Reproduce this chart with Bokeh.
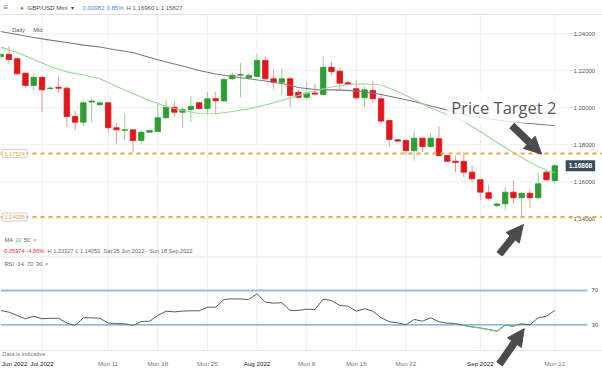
from bokeh.plotting import figure
from bokeh.layouts import column
from bokeh.models import (ColumnDataSource, FixedTicker, Span, Label, LabelSet,
                          Arrow, NormalHead, Range1d)
from bokeh.embed import file_html
from bokeh.resources import INLINE
from bokeh.core.properties import value

# ---------------- data ----------------
# trading-day index (IG daily incl. Sunday candles); 0 = Fri 1 Jul 2022
days = list(range(-5, 63))
opens = [1.2277, 1.2288, 1.2265, 1.2187, 1.2121, 1.2165, 1.2104, 1.2111, 1.2106, 1.1953,
         1.1922, 1.2031, 1.2016, 1.2027, 1.1892, 1.1878, 1.1881, 1.1823, 1.1868, 1.1872,
         1.1946, 1.2003, 1.1976, 1.1991, 1.2027, 1.1996, 1.2049, 1.2037, 1.2157, 1.2176,
         1.2162, 1.2169, 1.2256, 1.2157, 1.2138, 1.2157, 1.2084, 1.2057, 1.2080, 1.2072,
         1.2219, 1.2198, 1.2135, 1.2103, 1.2054, 1.2094, 1.2049, 1.1931, 1.1827, 1.1823,
         1.1769, 1.1836, 1.1791, 1.1833, 1.1742, 1.1711, 1.1710, 1.1652, 1.1611, 1.1541,
         1.1472, 1.1481, 1.1544, 1.1514, 1.1538, 1.1514, 1.1652, 1.1606]
highs = [1.2301, 1.2333, 1.2272, 1.2191, 1.2187, 1.2169, 1.2115, 1.2165, 1.2121, 1.1985,
         1.2040, 1.2050, 1.2030, 1.2030, 1.1917, 1.1968, 1.1881, 1.1881, 1.1881, 1.2022,
         1.2043, 1.2034, 1.2002, 1.2064, 1.2032, 1.2084, 1.2088, 1.2164, 1.2192, 1.2241,
         1.2187, 1.2292, 1.2277, 1.2205, 1.2216, 1.2169, 1.2097, 1.2138, 1.2130, 1.2277,
         1.2247, 1.2216, 1.2148, 1.2148, 1.2115, 1.2144, 1.2076, 1.1931, 1.1833, 1.1833,
         1.1877, 1.1838, 1.1863, 1.1899, 1.1742, 1.1742, 1.1760, 1.1688, 1.1611, 1.1585,
         1.1488, 1.1571, 1.1607, 1.1538, 1.1557, 1.1647, 1.1665, 1.1696]
lows = [1.2265, 1.2238, 1.2180, 1.2108, 1.2090, 1.1976, 1.2096, 1.2081, 1.1895, 1.1877,
        1.1904, 1.1922, 1.2012, 1.1867, 1.1809, 1.1823, 1.1760, 1.1805, 1.1865, 1.1868,
        1.1938, 1.1950, 1.1892, 1.1922, 1.1989, 1.1964, 1.1967, 1.2034, 1.2148, 1.2057,
        1.2151, 1.2165, 1.2151, 1.2099, 1.2067, 1.2003, 1.2049, 1.2043, 1.2067, 1.2067,
        1.2177, 1.2097, 1.2121, 1.2043, 1.2007, 1.2025, 1.1917, 1.1791, 1.1814, 1.1742,
        1.1715, 1.1760, 1.1784, 1.1737, 1.1706, 1.1652, 1.1625, 1.1598, 1.1499, 1.1499,
        1.1461, 1.1445, 1.1481, 1.1405, 1.1460, 1.1508, 1.1607, 1.1590]
closes = [1.2288, 1.2261, 1.2184, 1.2121, 1.2165, 1.2097, 1.2107, 1.2106, 1.1953, 1.1922,
          1.2027, 1.2037, 1.2027, 1.1892, 1.1881, 1.1881, 1.1823, 1.1868, 1.1877, 1.1946,
          1.2003, 1.1976, 1.1991, 1.2007, 1.1996, 1.2049, 1.2038, 1.2153, 1.2176, 1.2180,
          1.2175, 1.2256, 1.2157, 1.2138, 1.2157, 1.2067, 1.2057, 1.2079, 1.2074, 1.2219,
          1.2196, 1.2133, 1.2126, 1.2054, 1.2097, 1.2049, 1.1928, 1.1829, 1.1820, 1.1769,
          1.1836, 1.1791, 1.1836, 1.1742, 1.1711, 1.1704, 1.1652, 1.1616, 1.1544, 1.1511,
          1.1480, 1.1544, 1.1514, 1.1538, 1.1514, 1.1589, 1.1611, 1.16868]

ma_days = [-5, -3, -1, 1, 3, 5, 7, 9, 11, 13, 15, 17, 19, 21, 23, 25, 27, 29, 31, 33,
           35, 37, 39, 41, 43, 45, 47, 49, 51, 53, 55, 57, 59, 61, 62]
ma20 = [1.2328, 1.2299, 1.2261, 1.2223, 1.2194, 1.2177, 1.2157, 1.2115, 1.2077, 1.2040,
        1.2007, 1.1985, 1.1969, 1.1968, 1.1980, 1.1994, 1.2015, 1.2040, 1.2067, 1.2091,
        1.2112, 1.2126, 1.2130, 1.2123, 1.2088, 1.2045, 1.1999, 1.1964, 1.1926, 1.1872,
        1.1812, 1.1758, 1.1704, 1.1661, 1.1650]
ma50 = [1.2412, 1.2396, 1.2380, 1.2366, 1.2353, 1.2339, 1.2329, 1.2312, 1.2299, 1.2272,
        1.2248, 1.2226, 1.2202, 1.2183, 1.2169, 1.2157, 1.2145, 1.2131, 1.2110, 1.2099,
        1.2097, 1.2094, 1.2087, 1.2072, 1.2053, 1.2034, 1.2010, 1.1988, 1.1964, 1.1948,
        1.1934, 1.1923, 1.1915, 1.1907, 1.1904]

rsi = [46.7, 44.7, 40.8, 37.0, 40.0, 37.0, 37.5, 37.7, 32.0, 29.2,
       38.2, 38.0, 37.7, 32.0, 31.5, 31.2, 29.2, 33.8, 34.2, 40.8,
       45.9, 45.0, 46.0, 46.3, 46.3, 50.5, 50.5, 59.5, 60.3, 60.0,
       59.5, 66.2, 56.4, 55.2, 55.7, 46.7, 46.7, 48.2, 47.8, 59.9,
       58.3, 52.5, 51.7, 45.9, 48.7, 45.9, 38.2, 33.5, 32.3, 30.0,
       36.2, 34.2, 38.2, 33.5, 31.9, 31.5, 29.2, 27.5, 26.3, 24.5,
       22.5, 29.5, 28.4, 31.2, 30.0, 38.2, 40.0, 46.7]

price_ticks = [1.14, 1.16, 1.18, 1.20, 1.22, 1.24]
price_tick_labels = ["1.14000", "1.16000", "1.18000", "1.20000", "1.22000", "1.24000"]
grid_days = [0, 8, 14, 20, 26, 32, 38, 44, 53, 62]
mon_days = [8, 14, 20, 32, 38, 44, 62]
mon_labels = ["Mon 11", "Mon 18", "Mon 25", "Mon 8", "Mon 15", "Mon 22", "Mon 12"]
month_days = [-3.3, 0, 26, 53]
month_labels = ["Jun 2022", "Jul 2022", "Aug 2022", "Sep 2022"]
rsi_ticks = [30, 70]
level_hi = 1.17524
level_lo = 1.14095
last_price = 1.16868

# ---------------- layout constants ----------------
X0, X1 = -5.02, 67.77          # full canvas width in day units
AX = 63.9                      # where the price scale sits
P_TOP, P_BOT = 1.2504, 1.11962  # price pane limits
R_TOP = 109.6

SANS = "Liberation Sans"
GREEN = "#2e9e34"
RED = "#e0171c"
GREEN_WICK = "#93d193"
RED_WICK = "#f09898"
ORANGE = "#f0a940"
ARROW = "#4b4b4b"
GRID = "#ededed"


def candles(up):
    idx = [i for i in range(len(days)) if (closes[i] >= opens[i]) == up]
    return ColumnDataSource(dict(
        x=[days[i] for i in idx],
        top=[max(opens[i], closes[i]) for i in idx],
        bottom=[min(opens[i], closes[i]) for i in idx],
        high=[highs[i] for i in idx],
        low=[lows[i] for i in idx]))


def txt(fig, x, y, t, color="#555555", size="6px", bold=False):
    fig.add_layout(Label(x=x, y=y, text=t, text_font=SANS, text_font_size=size,
                         text_color=color, text_baseline="middle", text_align="left",
                         text_font_style="bold" if bold else "normal"))


xr = Range1d(X0, X1)

# ---------------- price pane ----------------
p1 = figure(width=602, height=256, x_range=xr, y_range=Range1d(P_BOT, 1.2580),
            x_axis_location=None, y_axis_location="right",
            output_backend="svg", toolbar_location=None,
            min_border_left=0, min_border_right=0, min_border_top=0, min_border_bottom=0)
p1.outline_line_color = None
p1.background_fill_color = "white"
p1.border_fill_color = "white"
p1.xgrid.grid_line_color = None
p1.ygrid.grid_line_color = None
p1.yaxis.fixed_location = AX
p1.yaxis.ticker = FixedTicker(ticks=price_ticks)
p1.yaxis.major_label_overrides = dict(zip(price_ticks, price_tick_labels))
p1.yaxis.axis_line_color = None
p1.yaxis.minor_tick_line_color = None
p1.yaxis.major_tick_line_color = "#cccccc"
p1.yaxis.major_tick_in = 0
p1.yaxis.major_tick_out = 2
p1.yaxis.major_label_standoff = 1
p1.yaxis.major_label_text_font = SANS
p1.yaxis.major_label_text_font_size = "6px"
p1.yaxis.major_label_text_color = "#555555"

# grid
p1.segment(x0=grid_days, x1=grid_days, y0=[P_BOT] * len(grid_days), y1=[P_TOP] * len(grid_days),
           line_color=GRID, line_width=1)
p1.segment(x0=[X0] * len(price_ticks), x1=[AX] * len(price_ticks), y0=price_ticks, y1=price_ticks,
           line_color=GRID, line_width=1)
p1.add_layout(Span(location=P_TOP, dimension="width", line_color="#dddddd", line_width=1))

for lvl in (level_hi, level_lo):
    p1.add_layout(Span(location=lvl, dimension="width", line_color=ORANGE,
                       line_width=2, line_dash="4 4"))

up_src = candles(True)
dn_src = candles(False)
p1.segment(x0="x", x1="x", y0="low", y1="high", source=up_src, line_color=GREEN_WICK, line_width=1)
p1.segment(x0="x", x1="x", y0="low", y1="high", source=dn_src, line_color=RED_WICK, line_width=1)
p1.vbar(x="x", top="top", bottom="bottom", width=0.66, source=up_src,
        fill_color=GREEN, line_color=GREEN, line_width=0.8)
p1.vbar(x="x", top="top", bottom="bottom", width=0.66, source=dn_src,
        fill_color=RED, line_color=RED, line_width=0.8)

p1.line(ma_days, ma50, line_color="#7a7a7a", line_width=1.1)
p1.line(ma_days, ma20, line_color="#9dd79d", line_width=1.1)

for lvl in (level_hi, level_lo):
    p1.add_layout(Label(x=-4.8, y=lvl, text=f"{lvl:.5f}", text_font=SANS,
                        text_font_size="5.7px", text_color="#e8a33a",
                        text_baseline="middle", text_align="left",
                        background_fill_color="white", border_line_color="#d0d0d0",
                        padding=2))

p1.add_layout(Label(x=65.1, y=last_price, text=f"{last_price:.5f}", text_font=SANS,
                    text_font_size="6.5px", text_color="white", text_font_style="bold",
                    text_baseline="middle", text_align="center",
                    background_fill_color="#3a4b61", padding=3))

p1.add_layout(Label(x=49.0, y=1.2003, text="Price Target 2", text_font="Open Sans",
                    text_font_size="16.5px", text_color="#555555", text_baseline="middle",
                    background_fill_color="white", background_fill_alpha=0.8, padding=4))

p1.add_layout(Arrow(end=NormalHead(size=17, fill_color=ARROW, line_color=ARROW),
                    x_start=56.8, y_start=1.1904, x_end=60.4, y_end=1.1750,
                    line_color=ARROW, line_width=7.5))
p1.add_layout(Arrow(end=NormalHead(size=17, fill_color=ARROW, line_color=ARROW),
                    x_start=55.3, y_start=1.1208, x_end=58.2, y_end=1.1369,
                    line_color=ARROW, line_width=7.5))

HY = 1.2542
txt(p1, -4.7, HY, "\u2261", "#777777", "8px")
txt(p1, -2.66, HY, "\u25cf", "#2fae3a", "6px")
txt(p1, -1.75, HY, "GBP/USD Mini", "#444444", "6px")
txt(p1, 3.45, HY, "\u25be", "#444444", "6px")
txt(p1, 4.9, HY, "0.00982", "#3f86d6", "6px")
txt(p1, 7.8, HY, "0.85%", "#3f86d6", "6px")
txt(p1, 10.22, HY, "H 1.16960 L 1.15827", "#555555", "6px")
txt(p1, -3.6, 1.2418, "Daily", "#555555", "5.7px")
txt(p1, -1.05, 1.2418, "Mid", "#555555", "5.7px")

txt(p1, -4.55, 1.1283, "MA", "#666666", "5.8px")
txt(p1, -3.25, 1.1283, "20", "#5cbf5c", "5.8px")
txt(p1, -2.2, 1.1283, "50", "#666666", "5.8px")
txt(p1, -1.1, 1.1283, "\u00d7", "#888888", "5.8px")
txt(p1, -4.78, 1.1225, "-0.05974", "#e0302f", "5.6px")
txt(p1, -1.87, 1.1225, "-4.86%", "#e0302f", "5.6px")
txt(p1, 0.67, 1.1225, "H 1.23327", "#666666", "5.6px")
txt(p1, 4.05, 1.1225, "L 1.14053", "#666666", "5.6px")
txt(p1, 7.44, 1.1225, "Sat 25 Jun 2022 - Sun 18 Sep 2022", "#666666", "5.6px")

# ---------------- RSI pane ----------------
p2 = figure(width=602, height=112, x_range=xr, y_range=Range1d(-20.96, R_TOP),
            y_axis_location="right", output_backend="svg", toolbar_location=None,
            min_border_left=0, min_border_right=0, min_border_top=0, min_border_bottom=0)
p2.outline_line_color = None
p2.background_fill_color = "white"
p2.border_fill_color = "white"
p2.xgrid.grid_line_color = None
p2.ygrid.grid_line_color = None

p2.yaxis.fixed_location = AX
p2.yaxis.ticker = FixedTicker(ticks=rsi_ticks)
p2.yaxis.axis_line_color = None
p2.yaxis.minor_tick_line_color = None
p2.yaxis.major_tick_line_color = None
p2.yaxis.major_tick_in = 0
p2.yaxis.major_tick_out = 0
p2.yaxis.major_label_standoff = 21
p2.yaxis.major_label_text_font = SANS
p2.yaxis.major_label_text_font_size = "6px"
p2.yaxis.major_label_text_color = "#555555"

p2.xaxis.fixed_location = 0
p2.xaxis.ticker = FixedTicker(ticks=mon_days)
p2.xaxis.major_label_overrides = dict(zip(mon_days, mon_labels))
p2.xaxis.axis_line_color = None
p2.xaxis.major_tick_line_color = None
p2.xaxis.minor_tick_line_color = None
p2.xaxis.major_tick_out = 0
p2.xaxis.major_tick_in = 0
p2.xaxis.major_label_standoff = 9
p2.xaxis.major_label_text_font = SANS
p2.xaxis.major_label_text_font_size = "6.2px"
p2.xaxis.major_label_text_color = "#777777"

p2.segment(x0=grid_days, x1=grid_days, y0=[0] * len(grid_days), y1=[R_TOP] * len(grid_days),
           line_color=GRID, line_width=1)
p2.add_layout(Span(location=109.2, dimension="width", line_color="#d9d9d9", line_width=1))
p2.add_layout(Span(location=0, dimension="width", line_color="#e6e6e6", line_width=1))

line_end = 65.96
p2.segment(x0=[X0, X0], x1=[line_end, line_end], y0=rsi_ticks, y1=rsi_ticks,
           line_color=["#6f9ed6", "#a3b8d3"], line_width=[1.2, 2])

month_src = ColumnDataSource(dict(x=month_days, y=[-15.1] * len(month_days), text=month_labels))
p2.add_layout(LabelSet(x="x", y="y", text="text", source=month_src,
                       text_font=value(SANS), text_font_size=value("6.2px"),
                       text_color="#222222", text_align="center", text_baseline="middle"))

p2.line(days, rsi, line_color="#5a5a5a", line_width=1)

# portions of the RSI line below 30 drawn in green
gx, gy = [], []
for i in range(len(days) - 1):
    x0, y0, x1, y1 = days[i], rsi[i], days[i + 1], rsi[i + 1]
    if y0 >= 30 and y1 >= 30:
        continue
    if y0 < 30 and y1 < 30:
        gx.append([x0, x1]); gy.append([y0, y1])
    else:
        t = (30 - y0) / (y1 - y0)
        xc = x0 + t * (x1 - x0)
        if y0 < 30:
            gx.append([x0, xc]); gy.append([y0, 30])
        else:
            gx.append([xc, x1]); gy.append([30, y1])
p2.multi_line(gx, gy, line_color="#6cc96c", line_width=1)

txt(p2, -4.55, 101.1, "RSI", "#666666", "5.8px")
txt(p2, -2.95, 101.1, "14", "#666666", "5.8px")
txt(p2, -1.85, 101.1, "70", "#666666", "5.8px")
txt(p2, -0.75, 101.1, "30", "#666666", "5.8px")
txt(p2, 0.35, 101.1, "\u00d7", "#888888", "5.8px")
txt(p2, -4.8, -3.5, "Data is indicative", "#777777", "5.7px")

p2.add_layout(Arrow(end=NormalHead(size=17, fill_color=ARROW, line_color=ARROW),
                    x_start=55.3, y_start=-16.0, x_end=58.3, y_end=25.5,
                    line_color=ARROW, line_width=7.5))

layout = column(p1, p2, spacing=0)
open("out.html", "w").write(file_html(layout, INLINE))
